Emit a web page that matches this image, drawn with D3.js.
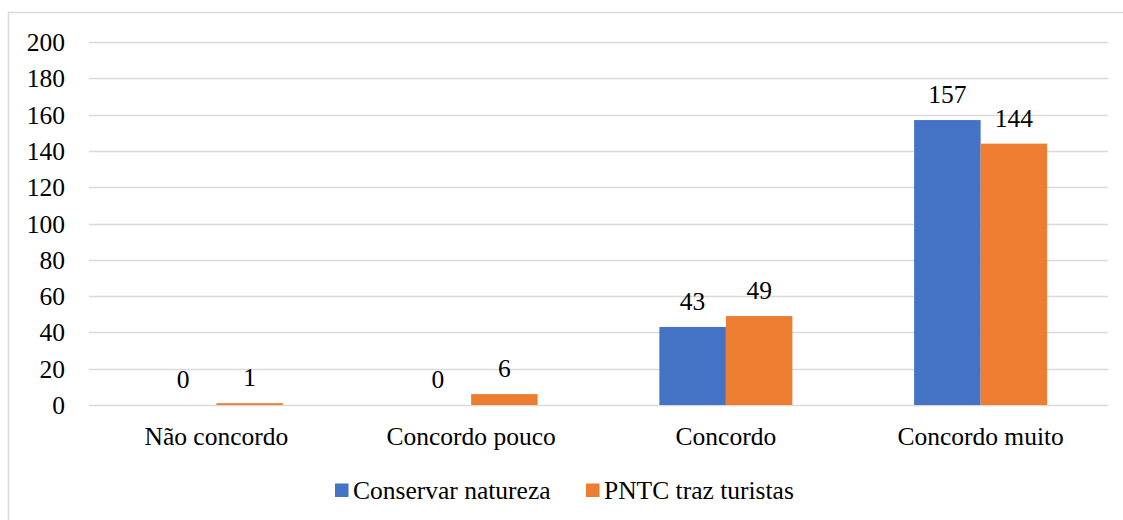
<!DOCTYPE html>
<html>
<head>
<meta charset="utf-8">
<script src="https://cdn.jsdelivr.net/npm/d3@7"></script>
</head>
<body style="margin:0">
<svg id="chart" width="1123" height="520"></svg>
<script>
// data
var categories = ["Não concordo", "Concordo pouco", "Concordo", "Concordo muito"];
var seriesNames = ["Conservar natureza", "PNTC traz turistas"];
var conservar = [0, 0, 43, 157];
var turistas = [1, 6, 49, 144];
var yTicks = [0, 20, 40, 60, 80, 100, 120, 140, 160, 180, 200];

var colors = ["#4472c4", "#ed7d31"];
var values = [conservar, turistas];

var svg = d3.select("#chart");

// outer chart border (runs off the right and bottom of the picture)
svg.append("rect")
  .attr("x", 8.5).attr("y", 12.5)
  .attr("width", 1300).attr("height", 700)
  .attr("fill", "none")
  .attr("stroke", "#d9d9d9")
  .attr("stroke-width", 1.5);

var plot = { left: 89, right: 1108, top: 42, bottom: 405 };

var y = d3.scaleLinear()
  .domain([0, 200])
  .range([plot.bottom, plot.top]);

var x0 = d3.scaleBand()
  .domain(categories)
  .range([plot.left, plot.right]);

var x1 = d3.scaleBand()
  .domain(seriesNames)
  .range([0, x0.bandwidth()])
  .paddingInner(0)
  .paddingOuter(0.915);

// gridlines
svg.append("g")
  .selectAll("line")
  .data(yTicks)
  .enter()
  .append("line")
  .attr("x1", plot.left).attr("x2", plot.right)
  .attr("y1", function(d) { return Math.round(y(d)) + 0.5; })
  .attr("y2", function(d) { return Math.round(y(d)) + 0.5; })
  .attr("stroke", "#d9d9d9")
  .attr("stroke-width", 1.3);

function addText(sel) {
  return sel.append("text")
    .style("font-family", "'Liberation Serif'")
    .style("font-size", "25.5px");
}

// y tick labels
addText(svg.selectAll("text.ytick")
  .data(yTicks)
  .enter())
  .attr("class", "ytick")
  .attr("x", 65)
  .attr("y", function(d) { return y(d) + 9; })
  .attr("text-anchor", "end")
  .text(function(d) { return d; });

// bars
var groups = svg.append("g")
  .selectAll("g")
  .data(categories)
  .enter()
  .append("g")
  .attr("transform", function(d) { return "translate(" + x0(d) + ",0)"; });

seriesNames.forEach(function(s, si) {
  groups.append("rect")
    .attr("x", x1(s))
    .attr("width", x1.bandwidth())
    .attr("y", function(d, i) { return y(values[si][i]); })
    .attr("height", function(d, i) { return y(0) - y(values[si][i]); })
    .attr("fill", colors[si]);

  addText(groups)
    .attr("x", x1(s) + x1.bandwidth() / 2)
    .attr("y", function(d, i) { return y(values[si][i]) - 17; })
    .attr("text-anchor", "middle")
    .text(function(d, i) { return values[si][i]; });
});

// category labels
addText(svg.selectAll("text.cat")
  .data(categories)
  .enter())
  .attr("class", "cat")
  .attr("x", function(d) { return x0(d) + x0.bandwidth() / 2; })
  .attr("y", 445)
  .attr("text-anchor", "middle")
  .text(function(d) { return d; });

// legend
var legendX = [335, 586];
var legend = svg.append("g")
  .selectAll("g")
  .data(seriesNames)
  .enter()
  .append("g")
  .attr("transform", function(d, i) { return "translate(" + legendX[i] + ",0)"; });

legend.append("rect")
  .attr("x", 0).attr("y", 483.5)
  .attr("width", 13.5).attr("height", 13.5)
  .attr("fill", function(d, i) { return colors[i]; });

addText(legend)
  .attr("x", 18)
  .attr("y", 499)
  .text(function(d) { return d; });
</script>
</body>
</html>
